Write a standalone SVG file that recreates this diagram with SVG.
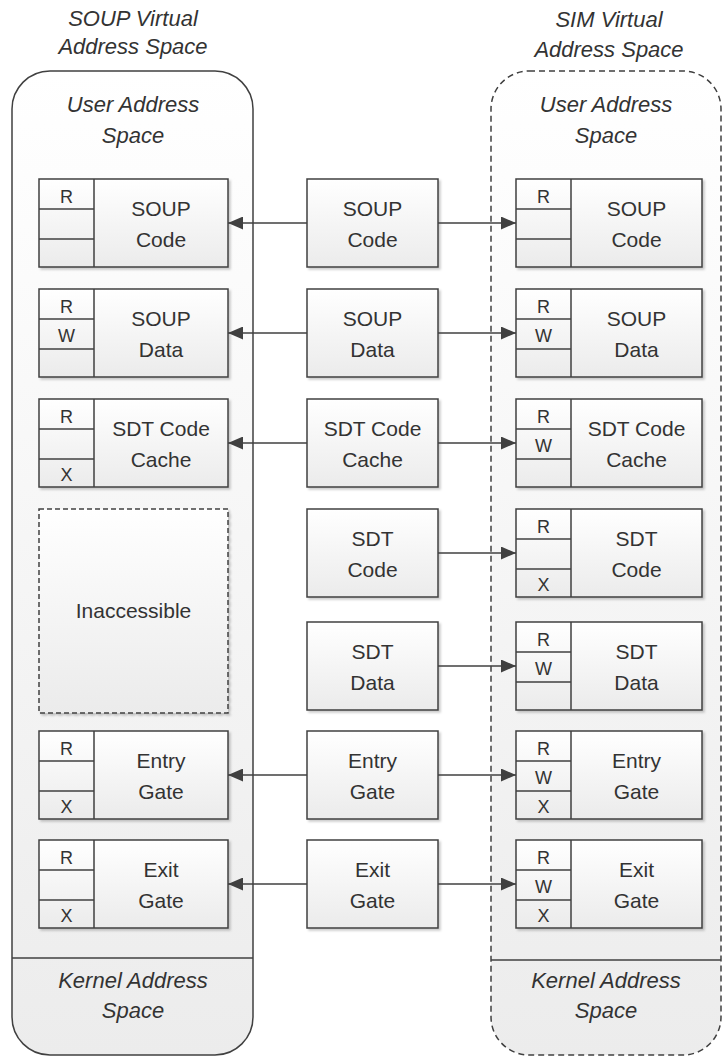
<svg xmlns="http://www.w3.org/2000/svg" width="723" height="1057" viewBox="0 0 723 1057">
<defs>
<linearGradient id="gc" x1="0" y1="0" x2="0" y2="1"><stop offset="0" stop-color="#ffffff"/><stop offset="1" stop-color="#ececec"/></linearGradient>
<linearGradient id="gb" x1="0" y1="0" x2="0" y2="1"><stop offset="0" stop-color="#ffffff"/><stop offset="1" stop-color="#ebebeb"/></linearGradient>
<filter id="sh" x="-10%" y="-10%" width="130%" height="130%"><feDropShadow dx="2" dy="2" stdDeviation="1.2" flood-color="#000" flood-opacity="0.2"/></filter>
<marker id="ah" viewBox="0 0 15 13" refX="15" refY="6.5" markerWidth="15" markerHeight="13" markerUnits="userSpaceOnUse" orient="auto"><path d="M0,0 L15,6.5 L0,13 z" fill="#404040"/></marker>
</defs>
<style>
.t{font-family:"Liberation Sans",Arial,sans-serif;font-size:21px;fill:#333333;text-anchor:middle}
.it{font-family:"Liberation Sans",Arial,sans-serif;font-size:22px;font-style:italic;fill:#333333;text-anchor:middle}
.f{font-family:"Liberation Sans",Arial,sans-serif;font-size:18px;fill:#333333;text-anchor:middle}
.box{fill:url(#gb);stroke:#404040;stroke-width:1.5;filter:url(#sh)}
.ln{stroke:#404040;stroke-width:1.5;fill:none}
.cn{stroke:#404040;stroke-width:1.5;fill:none;marker-end:url(#ah)}
</style>

<g id="soup-space">
<text class="it" x="133" y="26">SOUP Virtual</text>
<text class="it" x="133" y="54">Address Space</text>
<rect x="12" y="71" width="241" height="984" rx="38" fill="url(#gc)" stroke="#404040" stroke-width="1.5"/>
<line class="ln" x1="12" y1="958" x2="253" y2="958"/>
<text class="it" x="133" y="112">User Address</text>
<text class="it" x="133" y="143">Space</text>
<text class="it" x="133" y="988">Kernel Address</text>
<text class="it" x="133" y="1018">Space</text>
</g>

<g id="sim-space">
<text class="it" x="609" y="27">SIM Virtual</text>
<text class="it" x="609" y="57">Address Space</text>
<rect x="491" y="71" width="230" height="984" rx="38" fill="url(#gc)" stroke="#404040" stroke-width="1.5" stroke-dasharray="6,4"/>
<line class="ln" x1="491" y1="960" x2="721" y2="960"/>
<text class="it" x="606" y="112">User Address</text>
<text class="it" x="606" y="143">Space</text>
<text class="it" x="606" y="988">Kernel Address</text>
<text class="it" x="606" y="1018">Space</text>
</g>

<!-- Left (SOUP) boxes -->
<g id="l-soup-code">
<rect class="box" x="39" y="179" width="189" height="88"/>
<path class="ln" d="M94,179 V267 M39,209 H94 M39,239 H94"/>
<text class="f" x="66.5" y="203">R</text>
<text class="t" x="161" y="216">SOUP</text><text class="t" x="161" y="247">Code</text>
</g>
<g id="l-soup-data">
<rect class="box" x="39" y="289" width="189" height="88"/>
<path class="ln" d="M94,289 V377 M39,319 H94 M39,349 H94"/>
<text class="f" x="66.5" y="313">R</text><text class="f" x="66.5" y="342">W</text>
<text class="t" x="161" y="326">SOUP</text><text class="t" x="161" y="357">Data</text>
</g>
<g id="l-sdt-cache">
<rect class="box" x="39" y="399" width="189" height="88"/>
<path class="ln" d="M94,399 V487 M39,429 H94 M39,459 H94"/>
<text class="f" x="66.5" y="423">R</text><text class="f" x="66.5" y="481">X</text>
<text class="t" x="161" y="436">SDT Code</text><text class="t" x="161" y="467">Cache</text>
</g>
<g id="l-inaccessible">
<rect x="39" y="509" width="189" height="204" fill="url(#gb)" stroke="#404040" stroke-width="1.5" stroke-dasharray="5,3" filter="url(#sh)"/>
<text class="t" x="133.5" y="618">Inaccessible</text>
</g>
<g id="l-entry">
<rect class="box" x="39" y="731" width="189" height="88"/>
<path class="ln" d="M94,731 V819 M39,761 H94 M39,791 H94"/>
<text class="f" x="66.5" y="755">R</text><text class="f" x="66.5" y="813">X</text>
<text class="t" x="161" y="768">Entry</text><text class="t" x="161" y="799">Gate</text>
</g>
<g id="l-exit">
<rect class="box" x="39" y="840" width="189" height="88"/>
<path class="ln" d="M94,840 V928 M39,870 H94 M39,900 H94"/>
<text class="f" x="66.5" y="864">R</text><text class="f" x="66.5" y="922">X</text>
<text class="t" x="161" y="877">Exit</text><text class="t" x="161" y="908">Gate</text>
</g>

<!-- Middle boxes -->
<g id="m-soup-code"><rect class="box" x="307" y="179" width="131" height="88"/>
<text class="t" x="372.5" y="216">SOUP</text><text class="t" x="372.5" y="247">Code</text></g>
<g id="m-soup-data"><rect class="box" x="307" y="289" width="131" height="88"/>
<text class="t" x="372.5" y="326">SOUP</text><text class="t" x="372.5" y="357">Data</text></g>
<g id="m-sdt-cache"><rect class="box" x="307" y="399" width="131" height="88"/>
<text class="t" x="372.5" y="436">SDT Code</text><text class="t" x="372.5" y="467">Cache</text></g>
<g id="m-sdt-code"><rect class="box" x="307" y="509" width="131" height="88"/>
<text class="t" x="372.5" y="546">SDT</text><text class="t" x="372.5" y="577">Code</text></g>
<g id="m-sdt-data"><rect class="box" x="307" y="622" width="131" height="88"/>
<text class="t" x="372.5" y="659">SDT</text><text class="t" x="372.5" y="690">Data</text></g>
<g id="m-entry"><rect class="box" x="307" y="731" width="131" height="88"/>
<text class="t" x="372.5" y="768">Entry</text><text class="t" x="372.5" y="799">Gate</text></g>
<g id="m-exit"><rect class="box" x="307" y="840" width="131" height="88"/>
<text class="t" x="372.5" y="877">Exit</text><text class="t" x="372.5" y="908">Gate</text></g>

<!-- Right (SIM) boxes -->
<g id="r-soup-code">
<rect class="box" x="516" y="179" width="186" height="88"/>
<path class="ln" d="M571,179 V267 M516,209 H571 M516,239 H571"/>
<text class="f" x="543.5" y="203">R</text>
<text class="t" x="636.5" y="216">SOUP</text><text class="t" x="636.5" y="247">Code</text>
</g>
<g id="r-soup-data">
<rect class="box" x="516" y="289" width="186" height="88"/>
<path class="ln" d="M571,289 V377 M516,319 H571 M516,349 H571"/>
<text class="f" x="543.5" y="313">R</text><text class="f" x="543.5" y="342">W</text>
<text class="t" x="636.5" y="326">SOUP</text><text class="t" x="636.5" y="357">Data</text>
</g>
<g id="r-sdt-cache">
<rect class="box" x="516" y="399" width="186" height="88"/>
<path class="ln" d="M571,399 V487 M516,429 H571 M516,459 H571"/>
<text class="f" x="543.5" y="423">R</text><text class="f" x="543.5" y="452">W</text>
<text class="t" x="636.5" y="436">SDT Code</text><text class="t" x="636.5" y="467">Cache</text>
</g>
<g id="r-sdt-code">
<rect class="box" x="516" y="509" width="186" height="88"/>
<path class="ln" d="M571,509 V597 M516,539 H571 M516,569 H571"/>
<text class="f" x="543.5" y="533">R</text><text class="f" x="543.5" y="591">X</text>
<text class="t" x="636.5" y="546">SDT</text><text class="t" x="636.5" y="577">Code</text>
</g>
<g id="r-sdt-data">
<rect class="box" x="516" y="622" width="186" height="88"/>
<path class="ln" d="M571,622 V710 M516,652 H571 M516,682 H571"/>
<text class="f" x="543.5" y="646">R</text><text class="f" x="543.5" y="675">W</text>
<text class="t" x="636.5" y="659">SDT</text><text class="t" x="636.5" y="690">Data</text>
</g>
<g id="r-entry">
<rect class="box" x="516" y="731" width="186" height="88"/>
<path class="ln" d="M571,731 V819 M516,761 H571 M516,791 H571"/>
<text class="f" x="543.5" y="755">R</text><text class="f" x="543.5" y="784">W</text><text class="f" x="543.5" y="813">X</text>
<text class="t" x="636.5" y="768">Entry</text><text class="t" x="636.5" y="799">Gate</text>
</g>
<g id="r-exit">
<rect class="box" x="516" y="840" width="186" height="88"/>
<path class="ln" d="M571,840 V928 M516,870 H571 M516,900 H571"/>
<text class="f" x="543.5" y="864">R</text><text class="f" x="543.5" y="893">W</text><text class="f" x="543.5" y="922">X</text>
<text class="t" x="636.5" y="877">Exit</text><text class="t" x="636.5" y="908">Gate</text>
</g>

<g id="connectors">
<line class="cn" x1="307" y1="223" x2="228" y2="223"/>
<line class="cn" x1="438" y1="223" x2="516" y2="223"/>
<line class="cn" x1="307" y1="333" x2="228" y2="333"/>
<line class="cn" x1="438" y1="333" x2="516" y2="333"/>
<line class="cn" x1="307" y1="443" x2="228" y2="443"/>
<line class="cn" x1="438" y1="443" x2="516" y2="443"/>
<line class="cn" x1="438" y1="553" x2="516" y2="553"/>
<line class="cn" x1="438" y1="666" x2="516" y2="666"/>
<line class="cn" x1="307" y1="775" x2="228" y2="775"/>
<line class="cn" x1="438" y1="775" x2="516" y2="775"/>
<line class="cn" x1="307" y1="884" x2="228" y2="884"/>
<line class="cn" x1="438" y1="884" x2="516" y2="884"/>
</g>
</svg>
